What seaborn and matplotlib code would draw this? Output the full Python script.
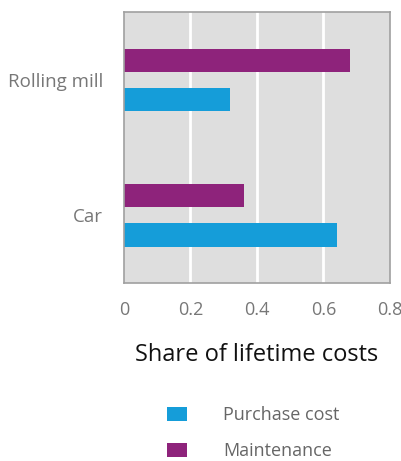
import matplotlib
matplotlib.use("Agg")
import matplotlib.pyplot as plt
import seaborn as sns
import pandas as pd
from matplotlib.patches import Patch

categories = ["Rolling mill", "Car"]
purchase_cost = [0.32, 0.64]
maintenance = [0.68, 0.36]
series_names = ["Purchase cost", "Maintenance"]
x_ticks = [0, 0.2, 0.4, 0.6, 0.8]
x_tick_labels = ["0", "0.2", "0.4", "0.6", "0.8"]

df = pd.DataFrame({
    "Machine": categories * 2,
    "Series": [series_names[0]] * 2 + [series_names[1]] * 2,
    "Share": purchase_cost + maintenance,
})

sns.set_theme(style="white")
plt.rcParams["font.family"] = ["Open Sans", "DejaVu Sans"]

colors = {"Purchase cost": "#159dd9", "Maintenance": "#8e237b"}

fig = plt.figure(figsize=(4.02, 4.61), dpi=100)
ax = fig.add_axes([0.308, 0.386, 0.662, 0.588])
sns.barplot(data=df, y="Machine", x="Share", hue="Series",
            hue_order=["Maintenance", "Purchase cost"], order=categories,
            palette=colors, orient="h", width=0.58, gap=0.41,
            saturation=1, linewidth=0, ax=ax, legend=False)

ax.set_facecolor("#dedede")
ax.set_xlim(0, 0.8)
ax.set_ylim(1.5, -0.5)
ax.set_xticks(x_ticks)
ax.set_xticklabels(x_tick_labels)
for v in x_ticks[1:-1]:
    ax.axvline(v, color="white", lw=2, zorder=0.5)
ax.set_axisbelow(True)
for s in ax.spines.values():
    s.set_color("#a0a0a0")
    s.set_linewidth(1.2)
ax.tick_params(axis="x", length=0, labelsize=13, labelcolor="#777777", pad=13)
ax.tick_params(axis="y", length=0, labelsize=13.5, labelcolor="#777777", pad=15)
ax.set_ylabel("")
ax.set_xlabel("Share of lifetime costs", fontsize=17, color="#111111", labelpad=17)

handles = [Patch(facecolor=colors[n], edgecolor="none") for n in series_names]
leg = fig.legend(handles, series_names, loc="center", bbox_to_anchor=(0.63, 0.06),
                 frameon=False, fontsize=13, labelspacing=1.0, handlelength=1.1,
                 handleheight=0.8, handletextpad=2.0)
for t in leg.get_texts():
    t.set_color("#666666")

fig.savefig("out.png", dpi=100)
